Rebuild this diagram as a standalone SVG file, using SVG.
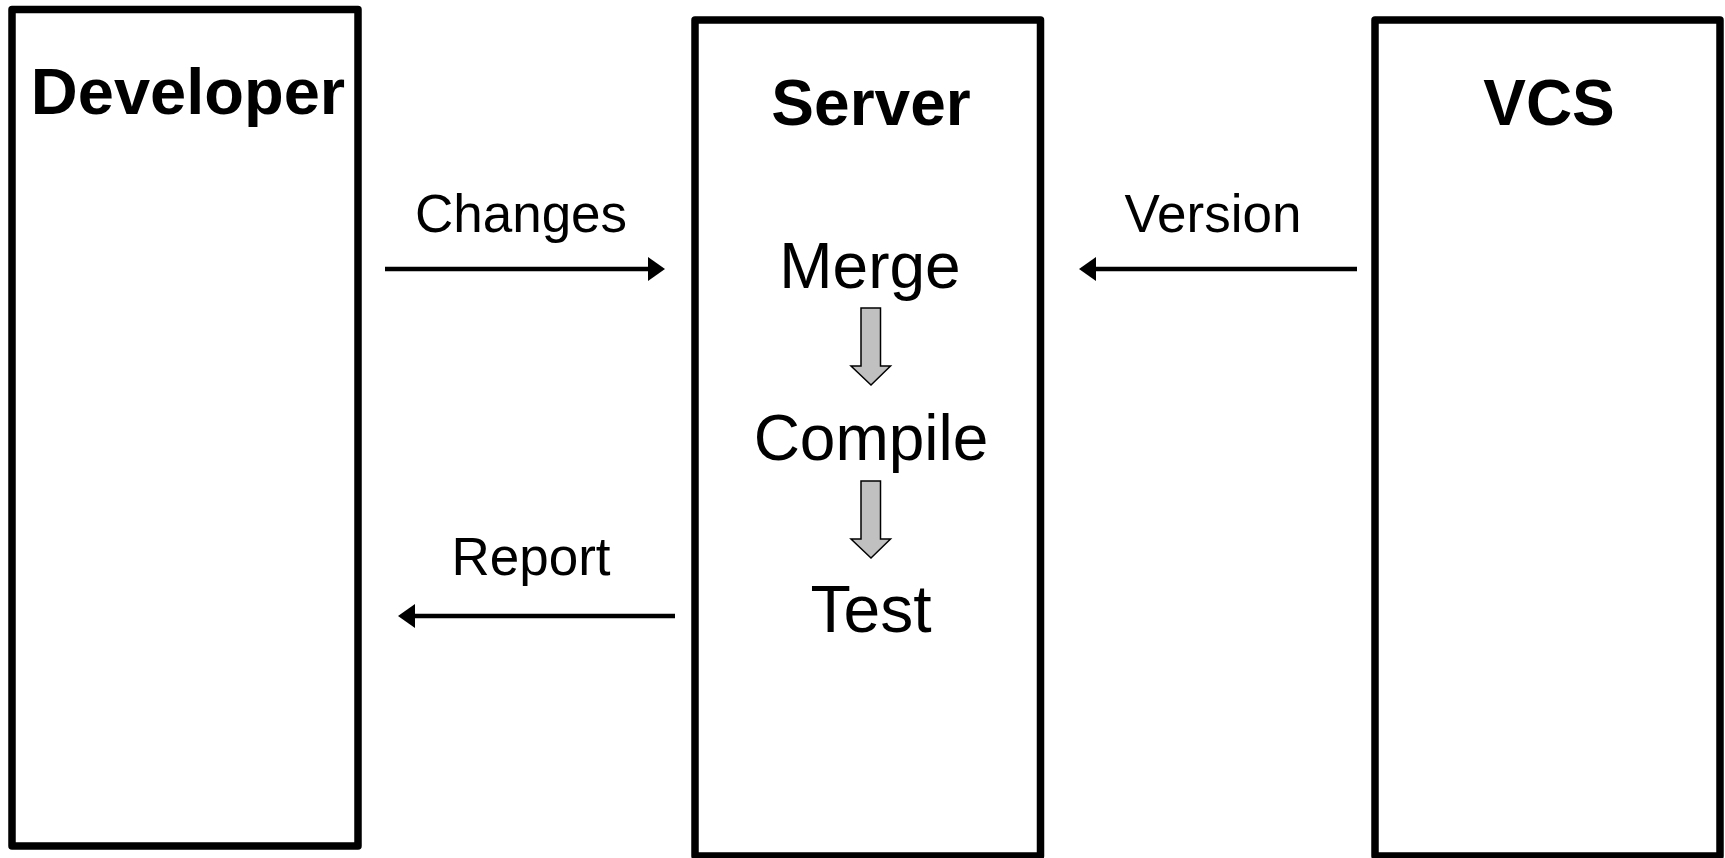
<svg xmlns="http://www.w3.org/2000/svg" width="1725" height="858" viewBox="0 0 1725 858">
<defs>
<style>
.box{fill:#fff;stroke:#000;stroke-width:7.5;stroke-linejoin:round}
.title{font-family:"Liberation Sans",Arial,sans-serif;font-weight:bold;font-size:64px;fill:#000;text-anchor:middle}
.step{font-family:"Liberation Sans",Arial,sans-serif;font-size:64px;fill:#000;text-anchor:middle}
.lbl{font-family:"Liberation Sans",Arial,sans-serif;font-size:53px;fill:#000;text-anchor:middle}
.conn{stroke:#000;stroke-width:4.5;fill:none;marker-end:url(#ah)}
.flow{fill:#c0c0c0;stroke:#000;stroke-width:1.5;stroke-linejoin:miter}
</style>
<marker id="ah" markerUnits="userSpaceOnUse" markerWidth="18" markerHeight="26" refX="1" refY="12" orient="auto" viewBox="0 0 18 24">
<path d="M0,0 L17,12 L0,24 z" fill="#000"/>
</marker>
</defs>
<rect width="1725" height="858" fill="#fff"/>
<g id="developer">
<rect class="box" x="12" y="9.5" width="346" height="836.5"/>
<text class="title" x="188" y="114" style="font-size:65px">Developer</text>
</g>
<g id="server">
<rect class="box" x="695" y="20" width="345.5" height="836"/>
<text class="title" x="871" y="125">Server</text>
<text class="step" x="870" y="288">Merge</text>
<path class="flow" d="M861,308 H880.5 V366 H890.5 L871,385 L851,366 H861 Z"/>
<text class="step" x="871" y="460">Compile</text>
<path class="flow" d="M861,481 H880.5 V539 H890.5 L871,558 L851,539 H861 Z"/>
<text class="step" x="871" y="632" style="font-size:66px">Test</text>
</g>
<g id="vcs">
<rect class="box" x="1375" y="20" width="345" height="836"/>
<text class="title" x="1549" y="125">VCS</text>
</g>
<g id="connectors">
<line class="conn" x1="385" y1="269" x2="649" y2="269"/>
<text class="lbl" x="521" y="232">Changes</text>
<line class="conn" x1="1357" y1="269" x2="1095" y2="269"/>
<text class="lbl" x="1213" y="232">Version</text>
<line class="conn" x1="675" y1="616" x2="414" y2="616"/>
<text class="lbl" x="531" y="575">Report</text>
</g>
</svg>
